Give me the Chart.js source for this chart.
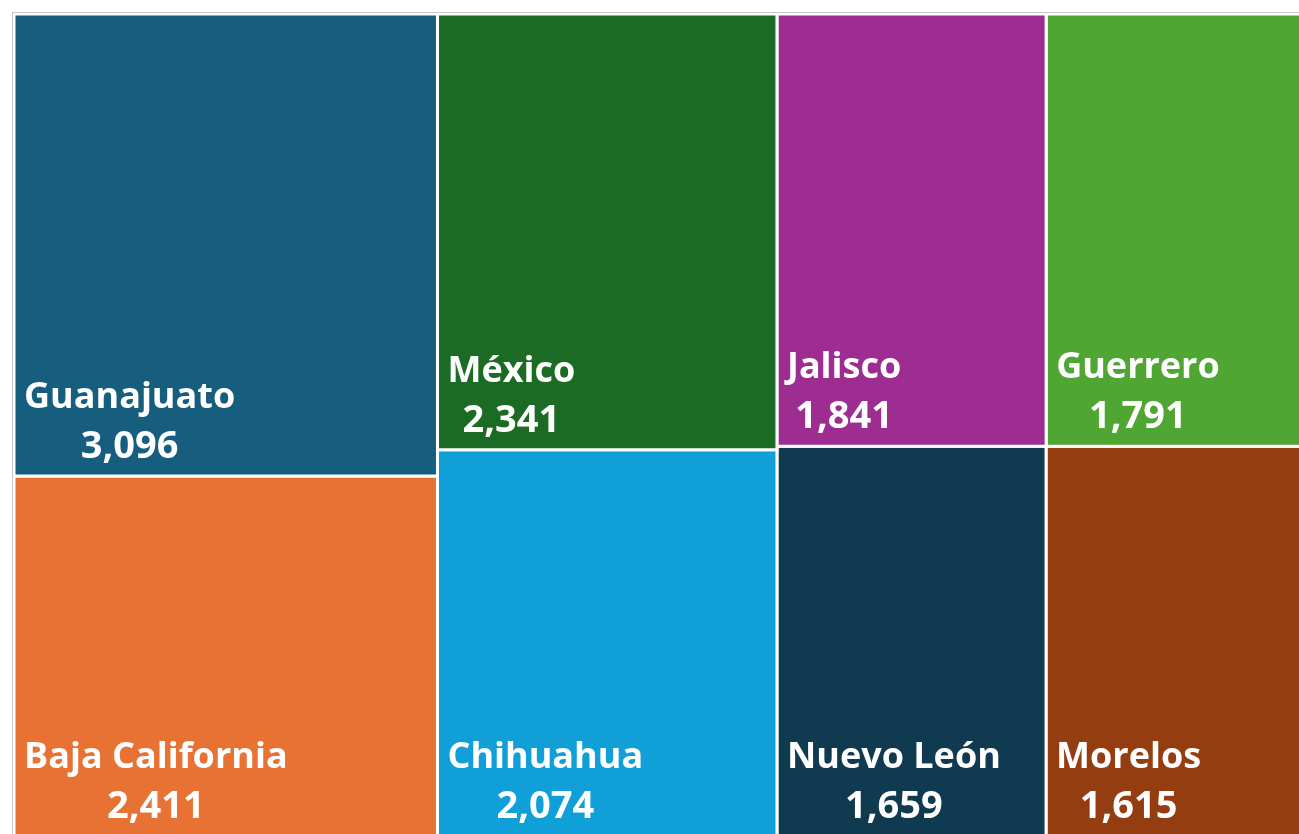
<!DOCTYPE html>
<html>
<head>
<meta charset="utf-8">
<script src="https://cdn.jsdelivr.net/npm/chart.js@4.4.1/dist/chart.umd.min.js"></script>
<style>
  html, body { margin: 0; padding: 0; background: #ffffff; overflow: hidden; }
  #wrap { position: absolute; left: 0; top: 0; }
</style>
</head>
<body>
<div id="wrap"><canvas id="c" width="1310" height="850"></canvas></div>
<script>
// ---- data ----
const states = ["Guanajuato", "Baja California", "México", "Chihuahua", "Jalisco", "Guerrero", "Nuevo León", "Morelos"];
const counts = [3096, 2411, 2341, 2074, 1841, 1791, 1659, 1615];
const palette = ["#175d7e", "#e87233", "#1c6b24", "#119fd7", "#9e2d92", "#50a632", "#0f3a50", "#943d10"];

// ---- layout space (treemap container, in scale units) ----
const LAYOUT_W = 1294;
const LAYOUT_H = 822;

function sum(a) { return a.reduce((s, v) => s + v, 0); }

// Squarified treemap (Bruls et al.)
function squarify(values, W, H) {
  const k = (W * H) / sum(values);
  let x = 0, y = 0, w = W, h = H;
  const rects = [];
  const worst = (row, side) => {
    const s = sum(row) * k;
    const mx = Math.max(...row) * k, mn = Math.min(...row) * k;
    return Math.max((side * side * mx) / (s * s), (s * s) / (side * side * mn));
  };
  let i = 0;
  while (i < values.length) {
    const side = Math.min(w, h);
    const row = [values[i]];
    let j = i + 1;
    while (j < values.length && worst(row.concat(values[j]), side) <= worst(row, side)) {
      row.push(values[j]); j++;
    }
    const thick = (sum(row) * k) / side;
    if (w >= h) {
      let yy = y;
      row.forEach((v, n) => {
        const hh = (v * k) / thick;
        rects.push({ idx: i + n, x0: x, y0: yy, x1: x + thick, y1: yy + hh });
        yy += hh;
      });
      x += thick; w -= thick;
    } else {
      let xx = x;
      row.forEach((v, n) => {
        const ww = (v * k) / thick;
        rects.push({ idx: i + n, x0: xx, y0: y, x1: xx + ww, y1: y + thick });
        xx += ww;
      });
      y += thick; h -= thick;
    }
    i = j;
  }
  return rects;
}

function build() {
  const rects = squarify(counts, LAYOUT_W, LAYOUT_H);

  const datasets = rects.map(r => ({
    label: states[r.idx],
    data: [
      { x: r.x0, y: r.y0 }, { x: r.x1, y: r.y0 },
      { x: r.x1, y: r.y1 }, { x: r.x0, y: r.y1 }, { x: r.x0, y: r.y0 }
    ],
    showLine: true,
    fill: 'shape',
    backgroundColor: palette[r.idx],
    borderColor: '#ffffff',
    borderWidth: 3,
    pointRadius: 0,
    pointHoverRadius: 0,
    tension: 0,
    clip: false
  }));

  const labelPlugin = {
    id: 'tileLabels',
    afterDatasetsDraw(chart) {
      const { ctx, scales } = chart;
      ctx.save();
      ctx.fillStyle = '#ffffff';
      ctx.textBaseline = 'alphabetic';
      rects.forEach(r => {
        const left = scales.x.getPixelForValue(r.x0);
        const bottom = scales.y.getPixelForValue(r.y1);
        const name = states[r.idx];
        ctx.font = 'bold 36px "Open Sans"';
        ctx.textAlign = 'left';
        const lx = left + 10;
        ctx.fillText(name, lx, bottom - 68);
        const wName = ctx.measureText(name).width;
        ctx.font = 'bold 38px "Open Sans"';
        ctx.textAlign = 'center';
        ctx.fillText(counts[r.idx].toLocaleString('en-US'), lx + wName / 2, bottom - 18);
      });
      ctx.restore();
    }
  };

  const framePlugin = {
    id: 'frame',
    afterDraw(chart) {
      const { ctx } = chart;
      ctx.save();
      ctx.strokeStyle = '#c8c8c8';
      ctx.lineWidth = 1;
      ctx.strokeRect(12.5, 12.5, 1400, 1000);
      ctx.restore();
    }
  };

  new Chart(document.getElementById('c'), {
    type: 'scatter',
    data: { datasets },
    options: {
      responsive: false,
      animation: false,
      events: [],
      layout: { padding: { left: 14, top: 14, right: 2, bottom: 14 } },
      plugins: { legend: { display: false }, tooltip: { enabled: false } },
      scales: {
        x: { type: 'linear', min: 0, max: LAYOUT_W, display: false },
        y: { type: 'linear', min: 0, max: LAYOUT_H, reverse: true, display: false }
      }
    },
    plugins: [labelPlugin, framePlugin]
  });
}

if (document.fonts && document.fonts.load) {
  Promise.all([
    document.fonts.load('bold 36px "Open Sans"'),
    document.fonts.load('bold 38px "Open Sans"')
  ]).then(build, build);
} else {
  build();
}
</script>
</body>
</html>
